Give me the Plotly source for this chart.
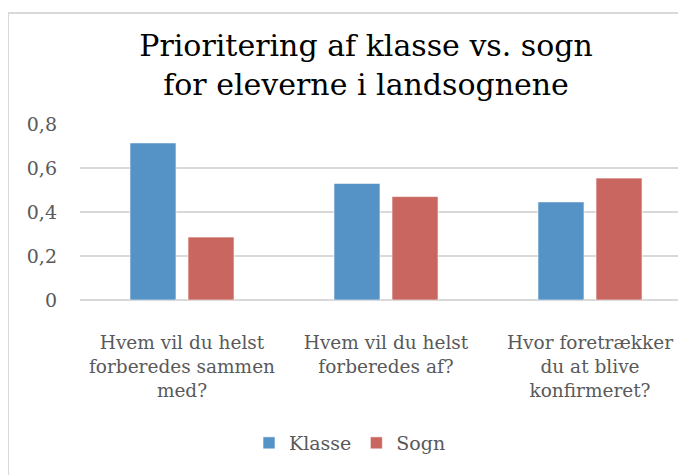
import plotly.graph_objects as go

categories = [
    "Hvem vil du helst<br>forberedes sammen<br>med?",
    "Hvem vil du helst<br>forberedes af?",
    "Hvor foretrækker<br>du at blive<br>konfirmeret?",
]
klasse = [0.714, 0.53, 0.446]
sogn = [0.286, 0.47, 0.554]

OFF = 8  # page body margin
W, H = 686 - OFF, 475 - OFF
L, T = 80 - OFF, 124 - OFF
pw = W - L
ph = 176
B = H - T - ph

font_family = "DejaVu Serif"
grey = "#595959"

fig = go.Figure()
fig.add_trace(go.Bar(
    name="Klasse", x=categories, y=klasse,
    marker=dict(color="#5592C6", line=dict(color="rgba(255,255,255,0.6)", width=1)),
))
fig.add_trace(go.Bar(
    name="Sogn", x=categories, y=sogn,
    marker=dict(color="#C9665F", line=dict(color="rgba(255,255,255,0.6)", width=1)),
))

fig.update_layout(
    width=W, height=H,
    margin=dict(l=L, r=0, t=T, b=B, pad=0),
    paper_bgcolor="white", plot_bgcolor="white",
    separators=",.",
    barmode="group", bargap=0.431, bargroupgap=0.207,
    title=dict(
        text="Prioritering af klasse vs. sogn<br>for eleverne i landsognene",
        x=(366 - OFF) / W, xanchor="center", y=1 - 48 / H, yanchor="middle",
        font=dict(family=font_family, size=30, color="black"),
    ),
    font=dict(family=font_family, size=18, color=grey),
    showlegend=True,
    legend=dict(
        orientation="h", x=(350 - OFF - L) / pw, xanchor="center",
        y=(T + ph - (443 - OFF)) / ph, yanchor="middle",
        font=dict(family=font_family, size=19, color=grey),
        itemwidth=30, traceorder="normal",
    ),
    xaxis=dict(
        range=[-0.5, -0.5 + pw / 204], showgrid=False, showline=False,
        zeroline=False, ticks="", ticklabelstandoff=29,
        tickfont=dict(family=font_family, size=18.5, color=grey),
    ),
    yaxis=dict(
        range=[0, 0.8], dtick=0.2, tick0=0, showgrid=True, gridcolor="#D9D9D9",
        gridwidth=2, zeroline=True, zerolinecolor="#D9D9D9", zerolinewidth=2,
        showline=False, ticks="", ticklabelstandoff=22,
        tickfont=dict(family=font_family, size=19, color=grey),
    ),
    shapes=[dict(
        type="rect", xref="paper", yref="paper",
        x0=(8 - OFF - L) / pw, x1=1.2, y0=-1.5, y1=1 + (T - (13 - OFF)) / ph,
        line=dict(color="#D9D9D9", width=2), fillcolor="rgba(0,0,0,0)", layer="below",
    )],
)

fig.write_html("out.html")
